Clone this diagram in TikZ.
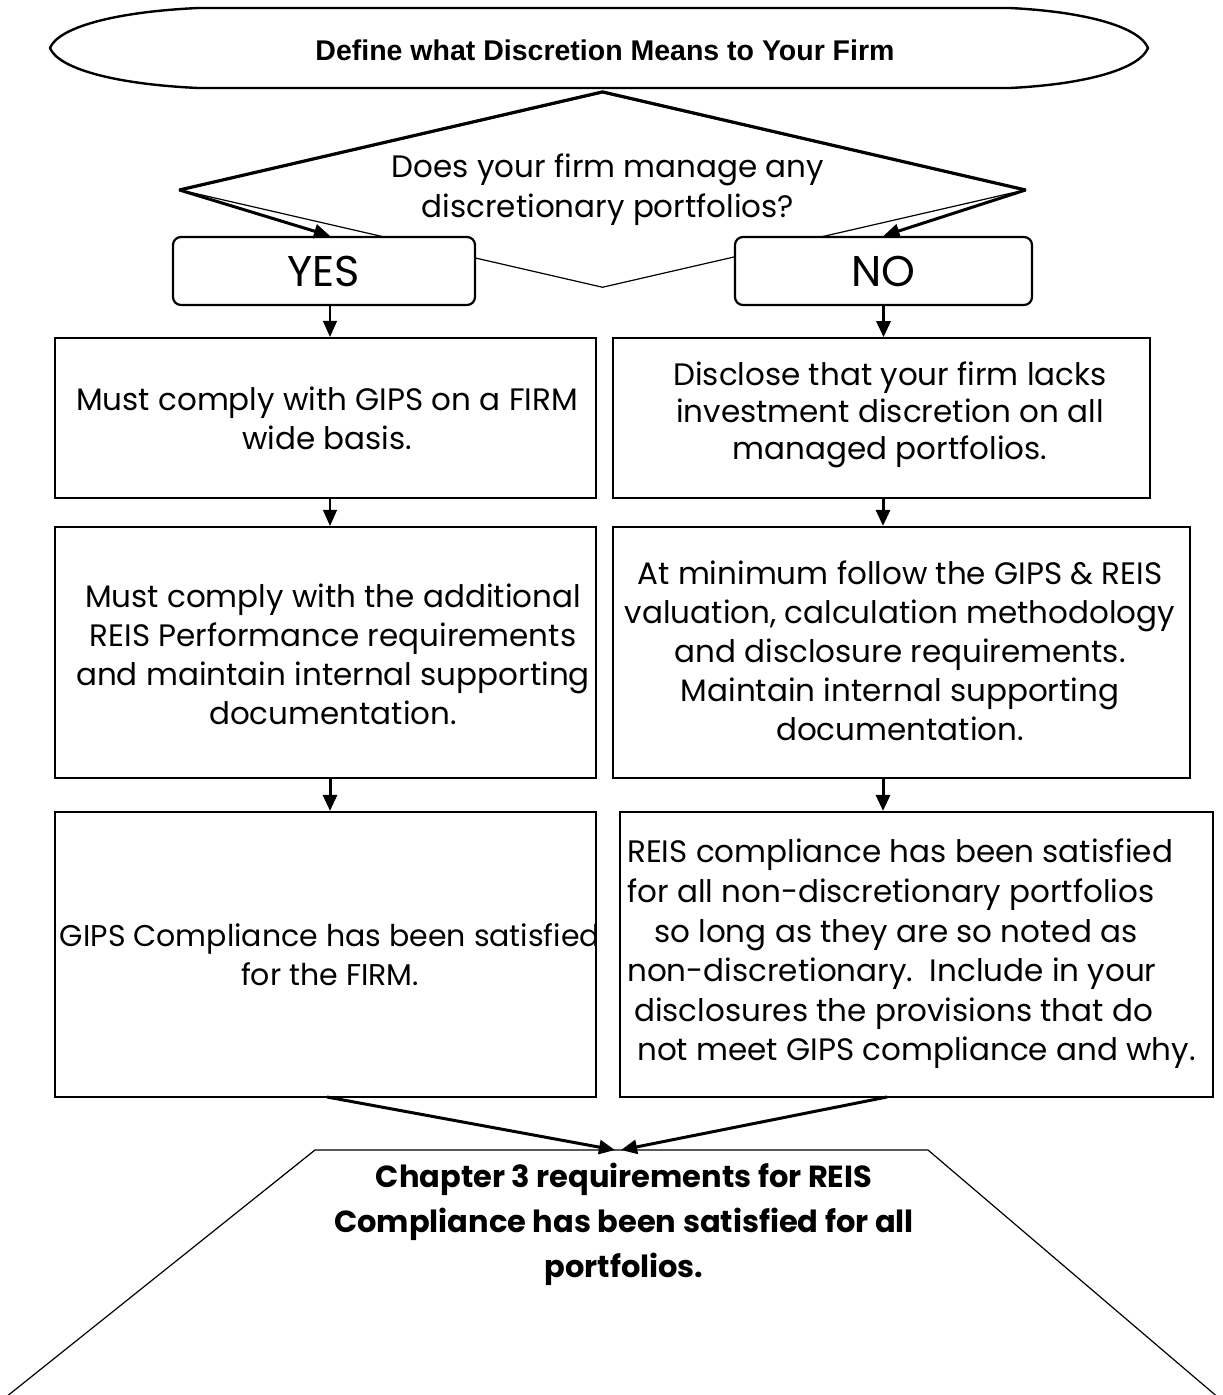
\documentclass[tikz,border=0pt]{standalone}
\usepackage{fontspec}
\setmainfont{Poppins}
\newfontfamily\titlefont{Liberation Sans}
\usetikzlibrary{arrows.meta,shapes.geometric,calc}
\begin{document}
\begin{tikzpicture}[x=1pt,y=-1pt,
  box/.style={draw,line width=2.2pt,inner sep=0pt,minimum width=#1},
  yn/.style={draw,fill=white,line width=2.2pt,rounded corners=8pt,inner sep=0pt,minimum width=#1,minimum height=68pt,font=\fontsize{43}{45}\selectfont},
  txt/.style={inner sep=0pt,align=center,font=\fontsize{31}{39}\selectfont},
  thinarrow/.style={line width=1.2pt,-{Triangle[length=16pt,width=14pt]}},
  thickarrow/.style={line width=3pt,-{Triangle[length=16pt,width=14pt]}}]
\useasboundingbox (0,0) rectangle (1223,1395);
% title ellipse
\draw[line width=2.4pt,line join=round] (198,8) -- (1010,8)
  .. controls (1090,12) and (1140,28) .. (1148,48)
  .. controls (1140,68) and (1090,84) .. (1010,88)
  -- (198,88)
  .. controls (112,84) and (58,68) .. (50,48)
  .. controls (58,28) and (112,12) .. (198,8) -- cycle;
\node[inner sep=0pt,font=\titlefont\bfseries\fontsize{28.5}{32}\selectfont] (title) at (605,50) {Define what Discretion Means to Your Firm};
% decision
\node[draw,diamond,line width=1.2pt,inner sep=0pt,minimum width=845pt,minimum height=195pt] (d) at (602.5,190) {};
\draw[line width=3.2pt,line join=miter] (d.west) -- (d.north) -- (d.east);
\node[txt,font=\fontsize{31}{40}\selectfont] (dq) at (608,190) {Does your firm manage any\\discretionary portfolios?};
% yes / no
\node[yn=302pt] (yes) at (324,271) {YES};
\node[yn=297pt] (no) at (883.5,271) {NO};
\draw[thickarrow] (d.west) -- ($(yes.north)+(6,0)$);
\draw[thickarrow] (d.east) -- (no.north);
% left column
\node[box=541pt,minimum height=160pt] (l1) at (325.5,418) {};
\node[txt] (l1t) at (327,418) {Must comply with GIPS on a FIRM\\wide basis.};
\node[box=541pt,minimum height=251pt] (l2) at (325.5,652.5) {};
\node[txt] (l2t) at (333,654) {Must comply with the additional\\REIS Performance requirements\\and maintain internal supporting\\documentation.};
\node[box=541pt,minimum height=285pt] (l3) at (325.5,954.5) {};
\node[txt,font=\fontsize{30}{39}\selectfont] (l3t) at (330,955) {GIPS Compliance has been satisfied\\for the FIRM.};
% right column
\node[box=537pt,minimum height=160pt,line width=1.6pt] (r1) at (881.5,418) {};
\node[txt,font=\fontsize{31}{37}\selectfont] (r1t) at (890,415) {Disclose that your firm lacks\\investment discretion on all\\managed portfolios.};
\node[box=577pt,minimum height=251pt] (r2) at (901.5,652.5) {};
\node[txt,font=\fontsize{31}{39}\selectfont] (r2t) at (900,651) {At minimum follow the GIPS \& REIS\\valuation, calculation methodology\\and disclosure requirements.\\Maintain internal supporting\\documentation.};
\node[box=593pt,minimum height=285pt] (r3) at (916.5,954.5) {};
\node[txt,align=left,anchor=west,font=\fontsize{31}{39.6}\selectfont] (r3t) at (627,954) {REIS compliance has been satisfied\\
for all non-discretionary portfolios\\
\hspace*{27pt}so long as they are so noted as\\
non-discretionary.\ \ Include in your\\
\hspace*{7pt}disclosures the provisions that do\\
\hspace*{10pt}not meet GIPS compliance and why.};
% vertical arrows
\draw[thinarrow] (yes.south) ++(6,0) coordinate (ys) -- (ys |- l1.north);
\draw[thickarrow] (no.south) -- (r1.north -| no.south);
\draw[thinarrow] (l1.south) ++(4.5,0) coordinate (l1s) -- (l1s |- l2.north);
\draw[thickarrow] (r1.south) ++(1.5,0) coordinate (r1s) -- (r1s |- r2.north);
\draw[thickarrow] (l2.south) ++(4.5,0) coordinate (l2s) -- (l2s |- l3.north);
\draw[thickarrow] (r1s |- r2.south) coordinate (r2s) -- (r2s |- r3.north);
% final trapezoid
\coordinate (tl) at (315,1150);
\coordinate (tr) at (928,1150);
\draw[line width=1.2pt] (-4,1405) -- (tl) -- (tr) -- (1227,1405);
\coordinate (tz) at (617,1150);
\node[txt,font=\bfseries\fontsize{30.5}{45}\selectfont] (fin) at (624,1224) {Chapter 3 requirements for REIS\\Compliance has been satisfied for all\\portfolios.};
\coordinate (l3o) at (327,1097);
\coordinate (r3o) at (887,1097);
\draw[thickarrow] (l3o) -- ($(tz)+(-2,0)$);
\draw[thickarrow] (r3o) -- ($(tz)+(4,0)$);
\end{tikzpicture}
\end{document}
